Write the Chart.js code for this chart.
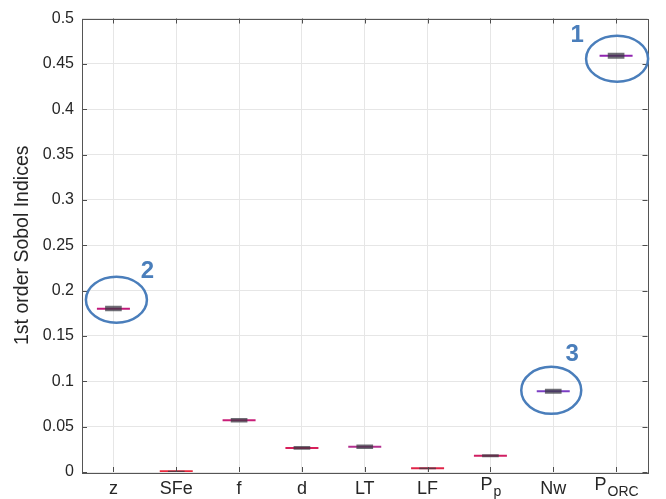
<!DOCTYPE html>
<html>
<head>
<meta charset="utf-8">
<script src="https://cdn.jsdelivr.net/npm/chart.js@4"></script>
<style>
  html, body { margin: 0; padding: 0; background: #fff; }
  canvas { display: block; }
</style>
</head>
<body>
<canvas id="sobolChart" width="666" height="499"></canvas>
<script>
const categories = ['z', 'SFe', 'f', 'd', 'LT', 'LF', 'Pp', 'Nw', 'PORC'];
const labelMain = ['z', 'SFe', 'f', 'd', 'LT', 'LF', 'P', 'Nw', 'P'];
const labelSub = ['', '', '', '', '', '', 'p', '', 'ORC'];
const medians = [0.180, 0.0008, 0.0571, 0.0264, 0.0278, 0.0040, 0.0179, 0.0890, 0.4590];
const boxLow = [0.1775, 0.0004, 0.0549, 0.0248, 0.0258, 0.0035, 0.0167, 0.0865, 0.4560];
const boxHigh = [0.1830, 0.0010, 0.0593, 0.0282, 0.0300, 0.0045, 0.0191, 0.0915, 0.4620];
const yTickValues = [0, 0.05, 0.1, 0.15, 0.2, 0.25, 0.3, 0.35, 0.4, 0.45, 0.5];
const yTickLabels = ['0', '0.05', '0.1', '0.15', '0.2', '0.25', '0.3', '0.35', '0.4', '0.45', '0.5'];
const circled = [8, 0, 7];          // category index of each marked result
const circleNumbers = ['1', '2', '3'];

const lineColors = ['#c2187a', '#e8283c', '#c81e78', '#d81f5a', '#b3308f', '#e02448', '#d01e62', '#7b3fc4', '#9024b0'];
const FONT = "'Liberation Sans', Arial, Helvetica, sans-serif";
const BLUE = '#4a7ebb';

// circle/number placement relative to the marked median (pixels)
const marks = [
    { cx: 1, cy: 3, rx: 31, ry: 23, nx: -39, ny: -21 },
    { cx: 3, cy: -9, rx: 30.5, ry: 23, nx: 34, ny: -38 },
    { cx: -2, cy: -1, rx: 30, ry: 23.5, nx: 19, ny: -38 }
];

const matlabAxes = {
    id: 'matlabAxes',
    afterDatasetsDraw(chart) {
        const { ctx, chartArea: a, scales: { x, y } } = chart;
        ctx.save();
        // inner tick marks on all four sides
        ctx.strokeStyle = '#4d4d4d';
        ctx.lineWidth = 1;
        ctx.beginPath();
        categories.forEach((c, i) => {
            const px = Math.round(x.getPixelForValue(i)) + 0.5;
            ctx.moveTo(px, a.bottom); ctx.lineTo(px, a.bottom - 5);
            ctx.moveTo(px, a.top); ctx.lineTo(px, a.top + 5);
        });
        yTickValues.forEach(v => {
            const py = Math.round(y.getPixelForValue(v)) + 0.5;
            ctx.moveTo(a.left, py); ctx.lineTo(a.left + 5, py);
            ctx.moveTo(a.right, py); ctx.lineTo(a.right - 5, py);
        });
        ctx.stroke();
        // box
        ctx.strokeStyle = '#555';
        ctx.strokeRect(Math.round(a.left) + 0.5, Math.round(a.top) + 0.5,
            Math.round(a.right - a.left), Math.round(a.bottom - a.top));

        // x labels with subscripts
        ctx.fillStyle = '#262626';
        ctx.textBaseline = 'alphabetic';
        categories.forEach((c, i) => {
            const px = x.getPixelForValue(i);
            const main = labelMain[i], sub = labelSub[i];
            ctx.font = '18px ' + FONT;
            const wm = ctx.measureText(main).width;
            if (!sub) {
                ctx.textAlign = 'center';
                ctx.fillText(main, px, a.bottom + 22);
            } else {
                ctx.font = '14px ' + FONT;
                const ws = ctx.measureText(sub).width;
                const x0 = px - (wm + ws) / 2;
                ctx.textAlign = 'left';
                ctx.font = '18px ' + FONT;
                ctx.fillText(main, x0, a.bottom + 18);
                ctx.font = '14px ' + FONT;
                ctx.fillText(sub, x0 + wm + 1, a.bottom + 24);
            }
        });

        // circled results
        ctx.strokeStyle = BLUE;
        ctx.fillStyle = BLUE;
        ctx.lineWidth = 2.5;
        ctx.font = 'bold 24px ' + FONT;
        ctx.textAlign = 'center';
        ctx.textBaseline = 'middle';
        circled.forEach((ci, k) => {
            const px = x.getPixelForValue(ci);
            const py = y.getPixelForValue(medians[ci]);
            const m = marks[k];
            ctx.beginPath();
            ctx.ellipse(px + m.cx, py + m.cy, m.rx, m.ry, 0, 0, Math.PI * 2);
            ctx.stroke();
            ctx.fillText(circleNumbers[k], px + m.nx, py + m.ny + 1);
        });
        ctx.restore();
    }
};

new Chart(document.getElementById('sobolChart'), {
    type: 'bar',
    data: {
        labels: categories,
        datasets: [{
            type: 'bar',
            data: categories.map((c, i) => [boxLow[i], boxHigh[i]]),
            backgroundColor: 'rgba(55,55,65,0.72)',
            barThickness: 16,
            order: 1
        }, {
            type: 'line',
            data: medians,
            showLine: false,
            pointStyle: 'line',
            pointRadius: 16.5,
            pointHoverRadius: 16.5,
            pointBorderColor: lineColors,
            pointBorderWidth: 2,
            order: 2
        }]
    },
    plugins: [matlabAxes],
    options: {
        responsive: false,
        animation: false,
        events: [],
        layout: { padding: { left: 0, right: 8, top: 17, bottom: 0 } },
        plugins: {
            legend: { display: false },
            tooltip: { enabled: false }
        },
        scales: {
            x: {
                grid: { offset: false, color: '#e6e6e6', drawTicks: false },
                border: { display: false },
                ticks: { display: false },
                afterFit: s => { s.height = 27; }
            },
            y: {
                min: 0,
                max: 0.5,
                grid: { color: '#e6e6e6', drawTicks: false },
                border: { display: false },
                afterBuildTicks: s => { s.ticks = yTickValues.map(v => ({ value: v })); },
                ticks: {
                    color: '#262626',
                    padding: 8,
                    font: { family: FONT, size: 16 },
                    callback: (v, i) => yTickLabels[i]
                },
                title: {
                    display: true,
                    text: '1st order Sobol Indices',
                    color: '#262626',
                    font: { family: FONT, size: 19.5 },
                    padding: { top: 11, bottom: 0 }
                },
                afterFit: s => { s.width = 82; }
            }
        }
    }
});
</script>
</body>
</html>
